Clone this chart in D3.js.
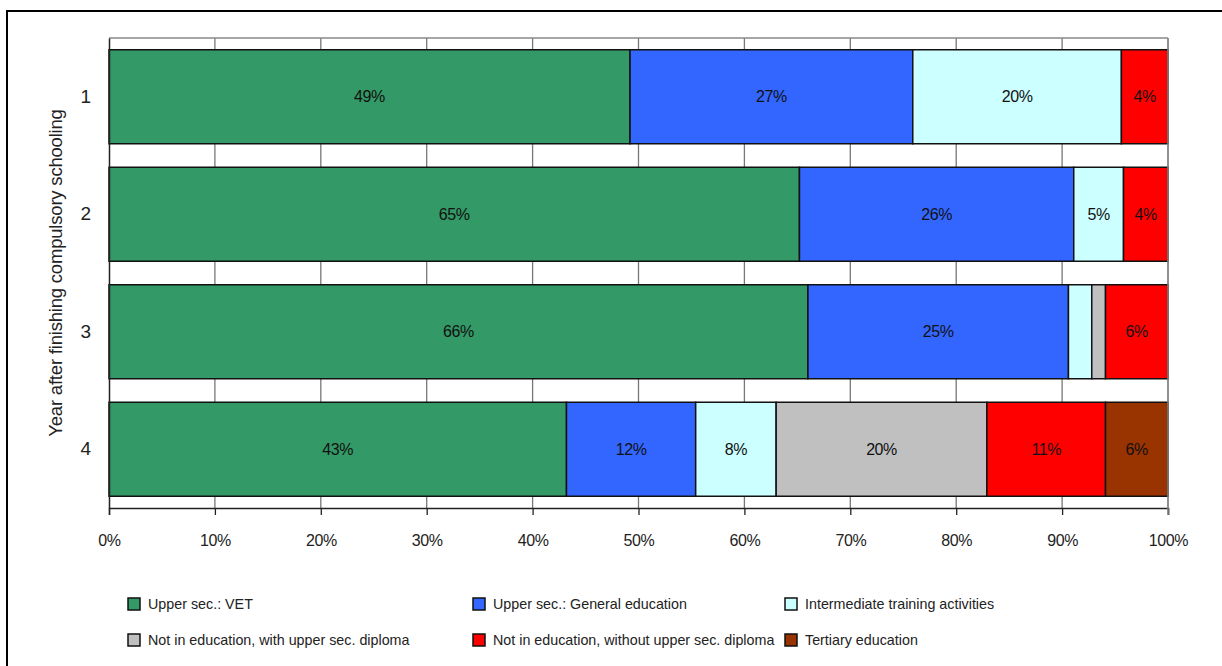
<!DOCTYPE html>
<html>
<head>
<meta charset="utf-8">
<script src="https://cdn.jsdelivr.net/npm/d3@7"></script>
<style>
  body { margin: 0; background: #fff; }
  svg { display: block; }
  text { font-family: "Liberation Sans", Arial, sans-serif; fill: #222; }
</style>
</head>
<body>
<div id="chart"></div>
<script>
// years after compulsory schooling
var years = ["1", "2", "3", "4"];

// shares per category, in percent
var vet          = [49.2, 65.2, 66.0, 43.2];
var general      = [26.7, 25.9, 24.6, 12.2];
var intermediate = [19.7, 4.7, 2.2, 7.6];
var withDiploma  = [0, 0, 1.3, 19.9];
var noDiploma    = [4.4, 4.2, 5.9, 11.2];
var tertiary     = [0, 0, 0, 5.9];

var seriesNames = ["Upper sec.: VET", "Upper sec.: General education", "Intermediate training activities",
    "Not in education, with upper sec. diploma", "Not in education, without upper sec. diploma", "Tertiary education"];
var seriesColors = ["#339966", "#3366ff", "#ccffff", "#c0c0c0", "#ff0000", "#993300"];
var xTicks = [0, 10, 20, 30, 40, 50, 60, 70, 80, 90, 100];

var W = 1222, H = 666;
var margin = {top: 38, right: 54, bottom: 158, left: 109},
    width = W - margin.left - margin.right,
    height = H - margin.top - margin.bottom;

var svg = d3.select("#chart").append("svg")
    .attr("width", W)
    .attr("height", H);

// outer frame (only top and left visible)
svg.append("rect")
    .attr("x", 7).attr("y", 11)
    .attr("width", W + 20).attr("height", H + 20)
    .attr("fill", "none")
    .attr("stroke", "#000")
    .attr("stroke-width", 2);

var g = svg.append("g")
    .attr("transform", "translate(" + margin.left + "," + margin.top + ")");

var x = d3.scaleLinear().domain([0, 100]).range([0, width]);
var y = d3.scaleBand().domain(years).range([0, height]).paddingInner(0.2).paddingOuter(0.1);

// table for stacking
var cols = [vet, general, intermediate, withDiploma, noDiploma, tertiary];
var rows = years.map(function(yr, i) {
    var r = {year: yr};
    seriesNames.forEach(function(s, j) { r[s] = cols[j][i]; });
    return r;
});
var stacked = d3.stack().keys(seriesNames)(rows);

// gridlines + plot box
g.selectAll(".grid")
    .data(xTicks.slice(1))
    .enter().append("line")
    .attr("x1", function(d) { return x(d); })
    .attr("x2", function(d) { return x(d); })
    .attr("y1", 0).attr("y2", height)
    .attr("stroke", "#777")
    .attr("stroke-width", 1.3);
g.append("line")
    .attr("x1", 0).attr("x2", width)
    .attr("y1", 0).attr("y2", 0)
    .attr("stroke", "#888").attr("stroke-width", 1.5);

// bars
var layer = g.selectAll(".layer")
    .data(stacked)
    .enter().append("g")
    .attr("fill", function(d, i) { return seriesColors[i]; });

layer.selectAll("rect")
    .data(function(d) { return d.filter(function(p) { return p[1] - p[0] > 0; }); })
    .enter().append("rect")
    .attr("x", function(d) { return x(d[0]); })
    .attr("width", function(d) { return x(d[1]) - x(d[0]); })
    .attr("y", function(d) { return y(d.data.year); })
    .attr("height", y.bandwidth())
    .attr("stroke", "#111")
    .attr("stroke-width", 1.5);

layer.selectAll("text")
    .data(function(d) { return d.filter(function(p) { return p[1] - p[0] >= 4; }); })
    .enter().append("text")
    .attr("x", function(d) { return (x(d[0]) + x(d[1])) / 2; })
    .attr("y", function(d) { return y(d.data.year) + y.bandwidth() / 2; })
    .attr("dy", "0.35em")
    .attr("text-anchor", "middle")
    .style("font-size", "16px")
    .style("letter-spacing", "-0.4px")
    .style("fill", "#111")
    .text(function(d) { return Math.round(d[1] - d[0]) + "%"; });

// x axis
var xAxis = g.append("g")
    .attr("transform", "translate(0," + height + ")")
    .call(d3.axisBottom(x).tickValues(xTicks).tickSize(7).tickPadding(20)
        .tickFormat(function(d) { return d + "%"; }));
xAxis.select(".domain").attr("stroke", "#222").attr("stroke-width", 1.5);
xAxis.selectAll(".tick line").attr("stroke", "#222").attr("stroke-width", 1.3);
xAxis.selectAll("text").style("font-size", "16px").style("letter-spacing", "-0.4px").style("fill", "#222")
    .style("font-family", "'Liberation Sans', Arial, sans-serif");

// y axis
var yAxis = g.append("g")
    .call(d3.axisLeft(y).tickSize(0).tickPadding(18));
yAxis.select(".domain").attr("stroke", "#222").attr("stroke-width", 1.5);
yAxis.selectAll("text").style("font-size", "19px").style("fill", "#222")
    .style("font-family", "'Liberation Sans', Arial, sans-serif");
// right border of plot
g.append("line")
    .attr("x1", width).attr("x2", width)
    .attr("y1", 0).attr("y2", height + 7)
    .attr("stroke", "#888").attr("stroke-width", 1.5);

svg.append("text")
    .attr("transform", "translate(62," + (margin.top + y("1") + (y("4") + y.bandwidth() - y("1")) / 2) + ") rotate(-90)")
    .attr("text-anchor", "middle")
    .style("font-size", "18.5px")
    .style("letter-spacing", "-0.2px")
    .text("Year after finishing compulsory  schooling");

// legend
var legX = [128, 473, 785], legY = [604, 640];
var legend = svg.append("g").attr("class", "legend")
    .selectAll("g")
    .data(seriesNames)
    .enter().append("g")
    .attr("transform", function(d, i) {
        return "translate(" + legX[i % 3] + "," + legY[Math.floor(i / 3)] + ")";
    });
legend.append("rect")
    .attr("x", 0).attr("y", -6)
    .attr("width", 12).attr("height", 12)
    .attr("fill", function(d, i) { return seriesColors[i]; })
    .attr("stroke", "#111").attr("stroke-width", 1.5);
legend.append("text")
    .attr("x", 20).attr("dy", "0.35em")
    .style("font-size", "14.3px")
    .style("fill", "#222")
    .text(function(d) { return d; });
</script>
</body>
</html>
